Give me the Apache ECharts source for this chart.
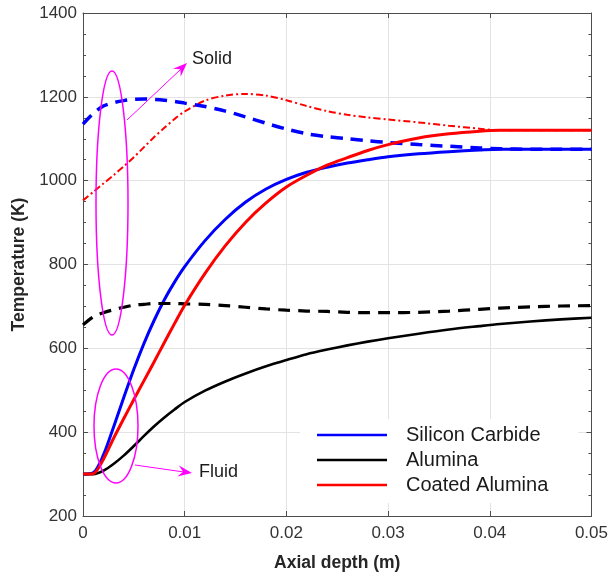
<!DOCTYPE html>
<html>
<head>
<meta charset="utf-8">
<script src="https://cdn.jsdelivr.net/npm/echarts@6/dist/echarts.min.js"></script>
<style>
html,body{margin:0;padding:0;background:#fff;}
#chart{width:611px;height:577px;}
</style>
</head>
<body>
<div id="chart"></div>
<script>
// Axial depth (m)
const depth = [0, 0.001, 0.002, 0.003, 0.004, 0.005, 0.006, 0.007, 0.008, 0.009, 0.010, 0.012, 0.014, 0.016, 0.018, 0.020, 0.022, 0.024, 0.026, 0.028, 0.030, 0.033, 0.036, 0.039, 0.041, 0.044, 0.047, 0.050];
// Fluid temperatures (K)
const sicFluid = [300, 303, 345, 412, 482, 550, 612, 667, 716, 758, 795, 857, 908, 949, 980, 1003, 1020, 1032, 1042, 1050, 1057, 1064, 1069, 1073, 1075, 1075, 1075, 1075];
const aluminaFluid = [300, 300, 308, 324, 344, 367, 391, 414, 435, 454, 472, 499, 521, 540, 557, 572, 586, 597, 607, 616, 624, 635, 645, 653, 658, 664, 669, 673];
const coatedFluid = [300, 301, 335, 385, 432, 478, 523, 568, 614, 659, 703, 779, 845, 901, 947, 985, 1013, 1037, 1055, 1072, 1086, 1102, 1112, 1118, 1120, 1120, 1120, 1120];
// Solid temperatures (K)
const sicSolid = [1135, 1160, 1178, 1186, 1191, 1194, 1195, 1194, 1192, 1189, 1185, 1177, 1166, 1152, 1137, 1123, 1112, 1105, 1100, 1095, 1091, 1086, 1082, 1078, 1076, 1075, 1075, 1075];
const aluminaSolid = [656, 675, 685, 692, 698, 703, 705, 707, 707, 707, 706, 705, 702, 698, 694, 691, 689, 688, 686, 685, 685, 686, 689, 693, 696, 699, 701, 702];
const coatedSolid = [953, 973, 993, 1013, 1034, 1056, 1080, 1104, 1126, 1147, 1165, 1191, 1203, 1207, 1203, 1192, 1178, 1166, 1157, 1151, 1146, 1139, 1131, 1124, 1120, 1120, 1120, 1120];
// Axis ticks
const xTicks = [0, 0.01, 0.02, 0.03, 0.04, 0.05];
const yTicks = [200, 400, 600, 800, 1000, 1200, 1400];
const legendNames = ['Silicon Carbide', 'Alumina', 'Coated Alumina'];

const pair = arr => depth.map((d, i) => [d, arr[i]]);
const FONT = 'Liberation Sans, Arial, sans-serif';
const AX = '#4d4d4d';

const chart = echarts.init(document.getElementById('chart'), null, {renderer: 'canvas'});

const baseX = {
  type: 'value', min: xTicks[0], max: xTicks[xTicks.length - 1], interval: 0.01,
  axisLine: {show: true, onZero: false, lineStyle: {color: AX, width: 1}},
  axisTick: {show: true, inside: true, length: 5, lineStyle: {color: AX}},
};
const baseY = {
  type: 'value', min: yTicks[0], max: yTicks[yTicks.length - 1], interval: 200,
  axisLine: {show: true, onZero: false, lineStyle: {color: AX, width: 1}},
  axisTick: {show: true, inside: true, length: 5, lineStyle: {color: AX}},
  minorTick: {show: true, splitNumber: 4, length: 3, lineStyle: {color: AX}},
};

function line(name, data, color, width, dash, z) {
  return {
    name, type: 'line', data: pair(data), smooth: 0.3, showSymbol: false, symbol: 'none',
    lineStyle: {color, width, type: dash || 'solid'}, itemStyle: {color}, z: z || 2,
    animation: false, silent: true
  };
}

const magenta = '#ff00ff';
function arrowHead(tip, from, len, half, notch) {
  const dx = tip[0] - from[0], dy = tip[1] - from[1];
  const L = Math.hypot(dx, dy), ux = dx / L, uy = dy / L;
  const px = -uy, py = ux;
  const bx = tip[0] - len * ux, by = tip[1] - len * uy;
  return [tip, [bx + half * px, by + half * py], [tip[0] - notch * ux, tip[1] - notch * uy], [bx - half * px, by - half * py]];
}

chart.setOption({
  animation: false,
  backgroundColor: '#ffffff',
  textStyle: {fontFamily: FONT},
  grid: {left: 83, right: 15, top: 13, bottom: 60, containLabel: false},
  xAxis: [
    Object.assign({}, baseX, {
      position: 'bottom',
      name: 'Axial depth (m)', nameLocation: 'middle', nameGap: 38,
      nameTextStyle: {fontFamily: FONT, fontSize: 17.5, fontWeight: 'bold', color: '#262626'},
      axisLabel: {show: true, fontFamily: FONT, fontSize: 17, color: '#333', margin: 9,
        formatter: v => String(Number(v.toFixed(3)))},
      splitLine: {show: true, lineStyle: {color: '#e3e3e3', width: 1}}
    }),
    Object.assign({}, baseX, {position: 'top', axisLabel: {show: false}, splitLine: {show: false}})
  ],
  yAxis: [
    Object.assign({}, baseY, {
      position: 'left',
      name: 'Temperature (K)', nameLocation: 'middle', nameGap: 49,
      nameTextStyle: {fontFamily: FONT, fontSize: 17.5, fontWeight: 'bold', color: '#262626'},
      axisLabel: {show: true, fontFamily: FONT, fontSize: 17, color: '#333', margin: 6,
        formatter: v => String(v)},
      splitLine: {show: true, lineStyle: {color: '#e3e3e3', width: 1}}
    }),
    Object.assign({}, baseY, {position: 'right', axisLabel: {show: false}, splitLine: {show: false}})
  ],
  legend: {
    data: legendNames.map(n => ({name: n, icon: 'rect'})),
    orient: 'vertical', left: 300, top: 419,
    itemWidth: 70, itemHeight: 2.5, itemGap: 5,
    backgroundColor: '#ffffff', borderWidth: 0,
    padding: [6, 30, 8, 17],
    textStyle: {fontFamily: FONT, fontSize: 20, color: '#1a1a1a', padding: [0, 0, 0, 14]},
    selectedMode: false, z: 5
  },
  series: [
    line('Silicon Carbide', sicFluid, '#0000ff', 3, 'solid', 3),
    line('Alumina', aluminaFluid, '#000000', 2.6, 'solid', 3),
    line('Coated Alumina', coatedFluid, '#ff0000', 3, 'solid', 4),
    line('Coated Alumina (solid)', coatedSolid, '#ff0000', 2, [7, 3, 2, 3], 2),
    line('Silicon Carbide (solid)', sicSolid, '#0000ff', 3.5, [12, 8], 3),
    line('Alumina (solid)', aluminaSolid, '#000000', 3.2, [12, 8], 3)
  ],
  graphic: [
    {type: 'ellipse', shape: {cx: 112, cy: 203, rx: 16, ry: 132}, style: {fill: 'none', stroke: magenta, lineWidth: 1.5}, z: 10, silent: true},
    {type: 'ellipse', shape: {cx: 116, cy: 426, rx: 22, ry: 57}, style: {fill: 'none', stroke: magenta, lineWidth: 1.5}, z: 10, silent: true},
    {type: 'line', shape: {x1: 127, y1: 120, x2: 181, y2: 69}, style: {stroke: magenta, lineWidth: 1}, z: 10, silent: true},
    {type: 'polygon', shape: {points: arrowHead([187, 63], [127, 120], 14, 5.5, 9)}, style: {fill: magenta}, z: 10, silent: true},
    {type: 'line', shape: {x1: 135, y1: 465, x2: 184, y2: 472}, style: {stroke: magenta, lineWidth: 1}, z: 10, silent: true},
    {type: 'polygon', shape: {points: arrowHead([192, 473], [135, 465], 14, 5.5, 9)}, style: {fill: magenta}, z: 10, silent: true},
    {type: 'text', left: 192, top: 50, style: {text: 'Solid', font: '18px ' + FONT, fill: '#1a1a1a'}, z: 10, silent: true},
    {type: 'text', left: 199, top: 463, style: {text: 'Fluid', font: '18px ' + FONT, fill: '#1a1a1a'}, z: 10, silent: true}
  ]
});
</script>
</body>
</html>
